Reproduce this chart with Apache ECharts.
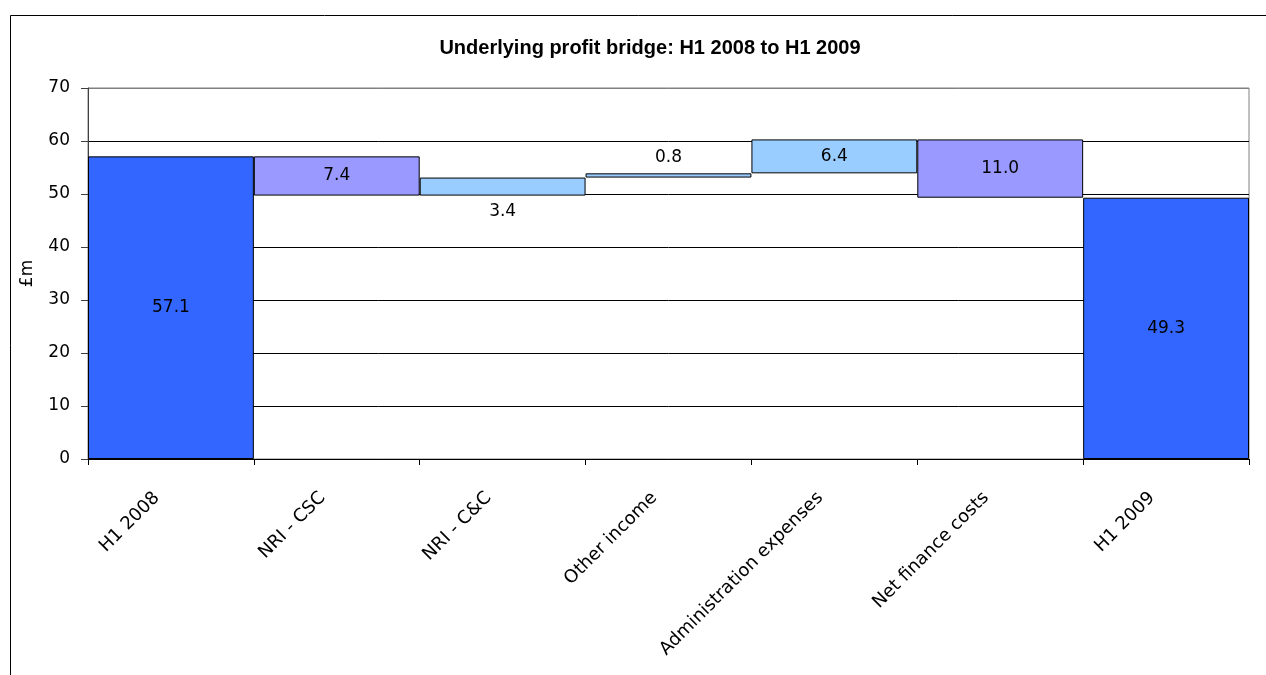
<!DOCTYPE html>
<html>
<head>
<meta charset="utf-8">
<script src="https://cdn.jsdelivr.net/npm/echarts@6/dist/echarts.min.js"></script>
<style>
html,body{margin:0;padding:0;background:#fff;}
#chart{width:1266px;height:675px;}
</style>
</head>
<body>
<div id="chart"></div>
<script>
// ---- Data ----
var categories = ['H1 2008', 'NRI - CSC', 'NRI - C&C', 'Other income', 'Administration expenses', 'Net finance costs', 'H1 2009'];
var startValue = 57.1;
var deltas = [-7.4, 3.4, 0.8, 6.4, -11.0];
var endValue = 49.3;
var labelTexts = ['57.1', '7.4', '3.4', '0.8', '6.4', '11.0', '49.3'];
var yTicks = [0, 10, 20, 30, 40, 50, 60, 70];

var FONT = "'DejaVu Sans', sans-serif";
var TITLE_FONT = "'Liberation Sans', Arial, sans-serif";
var TOTAL_COLOR = '#3366FF';
var UP_COLOR = '#99CCFF';
var DOWN_COLOR = '#9999FF';
// label placement per bar (matches the reference)
var labelPos = ['inside', 'inside', 'bottom', 'top', 'inside', 'inside', 'inside'];

// build base (invisible) and visible heights
var baseData = [0];
var barData = [];
barData.push({value: startValue, itemStyle: {color: TOTAL_COLOR}});
var running = startValue;
deltas.forEach(function (d) {
  var next = running + d;
  baseData.push(+Math.min(running, next).toFixed(2));
  barData.push({value: +Math.abs(d).toFixed(2), itemStyle: {color: d < 0 ? DOWN_COLOR : UP_COLOR}});
  running = next;
});
baseData.push(0);
barData.push({value: endValue, itemStyle: {color: TOTAL_COLOR}});
barData.forEach(function (item, i) {
  item.label = {position: labelPos[i], distance: 7, formatter: labelTexts[i]};
});

var chart = echarts.init(document.getElementById('chart'), null, {renderer: 'canvas'});
var option = {
  animation: false,
  backgroundColor: '#fff',
  title: {
    text: 'Underlying profit bridge: H1 2008 to H1 2009',
    left: 645, textAlign: 'center', top: 33,
    textStyle: {fontFamily: TITLE_FONT, fontSize: 20, fontWeight: 'bold', color: '#000'}
  },
  graphic: [{
    type: 'rect', left: 8, top: 13, silent: true,
    shape: {width: 1300, height: 700},
    style: {fill: 'none', stroke: '#000', lineWidth: 1}
  }],
  grid: {left: 88, right: 17, top: 88, bottom: 216, show: true, borderColor: '#808080', borderWidth: 1, backgroundColor: 'transparent'},
  xAxis: {
    type: 'category',
    data: categories,
    axisLine: {lineStyle: {color: '#000', width: 1}},
    axisTick: {show: true, length: 6, lineStyle: {color: '#000'}},
    axisLabel: {
      rotate: 45, interval: 0, margin: 22, padding: [0, 20, 0, 0],
      fontFamily: FONT, fontSize: 18, color: '#000'
    },
    splitLine: {show: false}
  },
  yAxis: {
    type: 'value', min: yTicks[0], max: yTicks[yTicks.length - 1], interval: 10,
    name: '£m', nameLocation: 'middle', nameGap: 52, nameRotate: 90,
    nameTextStyle: {fontFamily: FONT, fontSize: 17, color: '#000'},
    axisLine: {show: true, lineStyle: {color: '#404040', width: 1}},
    axisTick: {show: true, length: 7, lineStyle: {color: '#404040'}},
    axisLabel: {margin: 18, fontFamily: FONT, fontSize: 17, color: '#000'},
    splitLine: {show: true, lineStyle: {color: ['#000', '#000', '#000', '#000', '#000', '#000', '#000', '#808080'], width: 1}}
  },
  series: [
    {
      type: 'bar', stack: 'wf', data: baseData,
      itemStyle: {color: 'transparent', borderWidth: 0},
      barWidth: '100%', barCategoryGap: 0, silent: true,
      label: {show: false}
    },
    {
      type: 'bar', stack: 'wf', data: barData,
      barWidth: '100%', barCategoryGap: 0,
      itemStyle: {borderColor: '#000', borderWidth: 1},
      label: {show: true, fontFamily: FONT, fontSize: 17, color: '#000'}
    }
  ]
};
chart.setOption(option);
</script>
</body>
</html>
